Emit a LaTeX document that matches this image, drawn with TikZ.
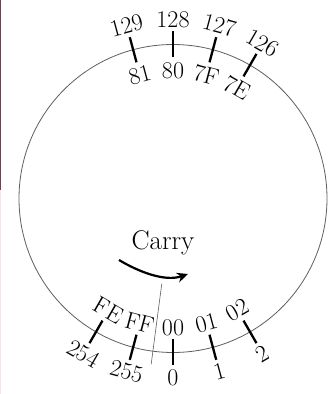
\documentclass[tikz,border=0pt]{standalone}
\usepackage{fontspec}
\usetikzlibrary{arrows.meta,calc}
\definecolor{edgedark}{RGB}{125,60,80}
\definecolor{edgelight}{RGB}{248,228,235}
\definecolor{ringgray}{RGB}{95,95,95}
\begin{document}
\begin{tikzpicture}[x=1pt,y=1pt,
  lbl/.style={font=\fontsize{24}{28}\selectfont, inner sep=0pt},
  tickmark/.style={line width=2.3pt, black},
  ring/.style={draw=ringgray, line width=0.8pt},
  divider/.style={draw=ringgray, line width=0.6pt},
  carryarrow/.style={line width=2.2pt, -{Stealth[length=11pt,width=10pt]}}
]
\useasboundingbox (0,0) rectangle (336,394);
\fill[white] (0,0) rectangle (336,394);
\fill[edgedark] (0,394) rectangle (1.2,204);
\fill[edgelight] (0,204) rectangle (1.2,0);
\coordinate (c) at (173,195.5);
\draw[ring] (c) circle (154);
% top ticks
\foreach \a/\o/\i [count=\k] in {105/129/81, 90/128/80, 75/127/7F, 60/126/7E} {
  \draw[tickmark] ($(c)+(\a:141)$) -- ($(c)+(\a:167)$);
  \node[lbl, rotate=\a-90] (top\k) at ($(c)+(\a:179)$) {\o};
  \node[lbl, rotate=\a-90] (tophex\k) at ($(c)+(\a:128)$) {\i};
}
% bottom ticks
\foreach \a/\o/\i [count=\k] in {240/254/FE, 255/255/FF, 270/0/00, 285/1/01, 300/2/02} {
  \draw[tickmark] ($(c)+(\a:141)$) -- ($(c)+(\a:167)$);
  \node[lbl, rotate=\a-270] (bot\k) at ($(c)+(\a:179)$) {\o};
  \node[lbl, rotate=\a-270] (bothex\k) at ($(c)+(\a:129)$) {\i};
}
% divider between FF and 00
\draw[divider] ($(c)+(262.5:86)$) -- ($(c)+(262.5:167)$);
% carry
\node[font=\fontsize{27}{32}\selectfont, anchor=base, inner sep=0pt] (carry) at (163,144.7) {Carry};
\coordinate (arrowstart) at (119,134);
\coordinate (arrowend) at (188,120);
\draw[carryarrow] (arrowstart) .. controls (139,122) and (165,112) .. (arrowend);
\end{tikzpicture}
\end{document}
